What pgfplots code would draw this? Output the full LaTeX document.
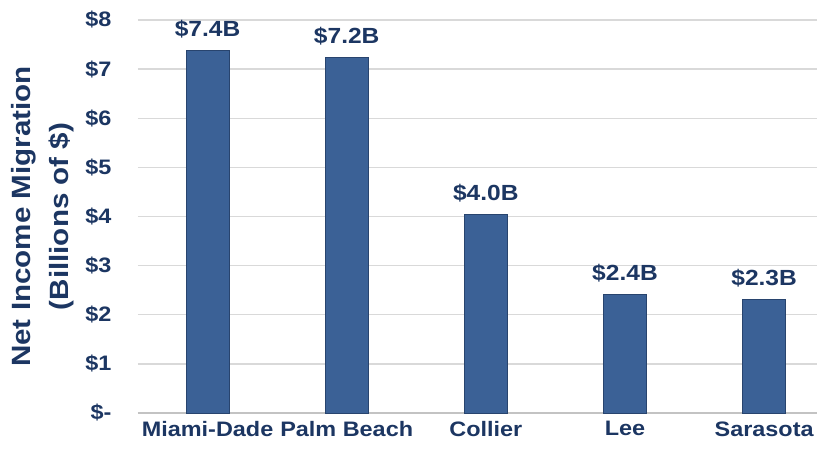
\documentclass[border=0pt]{standalone}
\usepackage{pgfplots}
\pgfplotsset{compat=1.18}
\usepackage{fontspec}
\setmainfont[FakeStretch=1.12]{Liberation Sans}
\definecolor{barblue}{RGB}{59,97,150}
\definecolor{baredge}{RGB}{40,68,110}
\definecolor{navy}{RGB}{28,54,98}
\definecolor{gridgray}{RGB}{217,217,217}
\begin{document}
\begin{tikzpicture}[x=1bp,y=1bp]
\begin{axis}[
  name=ax,
  scale only axis,
  width=679bp, height=393bp,
  xmin=-0.5, xmax=4.38,
  ymin=0, ymax=8,
  ytick={0,1,2,3,4,5,6,7,8},
  yticklabels={\$-,\$1,\$2,\$3,\$4,\$5,\$6,\$7,\$8},
  xtick={0,1,2,3,4},
  xticklabels={Miami-Dade,Palm Beach,Collier,Lee,Sarasota},
  major tick length=0pt,
  axis y line*=left,
  axis x line*=bottom,
  y axis line style={draw=none},
  x axis line style={draw=gridgray!90!black, line width=1.5pt, -},
  ymajorgrids,
  major grid style={draw=gridgray, line width=1.3pt},
  yticklabel style={font=\fontsize{21}{22}\selectfont\bfseries, text=navy, anchor=east, xshift=-23bp},
  xticklabel style={font=\fontsize{21}{22}\selectfont\bfseries, text=navy, anchor=north, yshift=-5bp},
  ylabel={Net Income Migration\\(Billions of \$)},
  every axis y label/.style={at={(axis description cs:-0.14,0.5)}, rotate=90, anchor=center,
    font=\fontsize{26.5}{38}\selectfont\bfseries, text=navy, align=center},
  point meta=explicit symbolic,
  nodes near coords,
  nodes near coords style={font=\fontsize{22}{22}\selectfont\bfseries, text=navy, anchor=south, inner sep=0pt, yshift=12bp},
  clip=false,
]
\addplot[ybar, bar width=43bp, fill=barblue, draw=baredge, line width=0.8pt] table[x=x, y=y, meta=lab] {
x y lab
0 7.38 \$7.4B
1 7.23 \$7.2B
2 4.04 \$4.0B
3 2.42 \$2.4B
4 2.32 \$2.3B
};
\end{axis}
\pgfresetboundingbox
\path (ax.south west) ++(-138bp,-40bp) coordinate (bl);
\path (ax.north east) ++(0bp,20bp) coordinate (tr);
\path[use as bounding box] (bl) rectangle (tr);
\end{tikzpicture}
\end{document}
